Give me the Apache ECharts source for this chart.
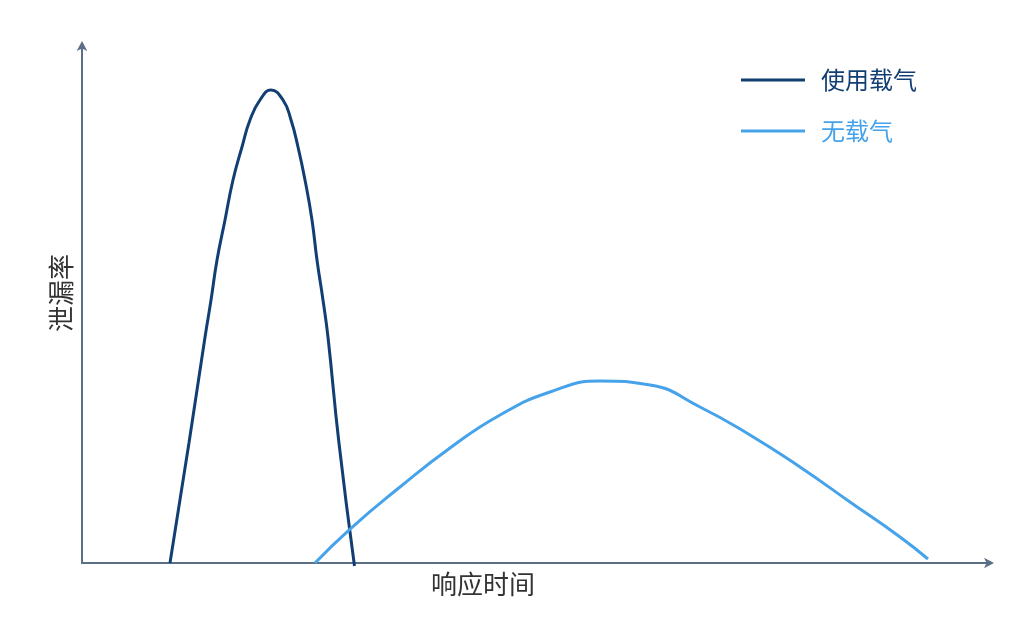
<!DOCTYPE html>
<html>
<head>
<meta charset="utf-8">
<script src="https://cdn.jsdelivr.net/npm/echarts@6/dist/echarts.min.js"></script>
<style>html,body{margin:0;padding:0;background:#fff}#c{width:1032px;height:627px}</style>
</head>
<body>
<div id="c"></div>
<script>
var seriesNames = ['使用载气', '无载气'];
var seriesColors = ['#123f73', '#46a3ea'];
var xAxisName = '响应时间';
var yAxisName = '泄漏率';

// [response time, leak rate] (arbitrary units, 0-100)
var withCarrier = [
  [9.69, 0], [11.78, 23.17], [13.55, 43.63], [14.21, 50.77], [14.87, 58.49],
  [15.75, 66.22], [16.63, 73.94], [17.62, 80.31], [18.5, 85.52], [19.6, 89.38],
  [20.81, 91.31], [22.14, 89.38], [23.02, 85.52], [23.79, 80.31], [24.56, 73.94],
  [25.33, 66.22], [25.88, 58.49], [26.54, 50.77], [27.09, 43.63], [28.3, 23.17],
  [30.01, -0.58]
];
var withoutCarrier = [
  [25.66, 0], [29.52, 6.56], [35.02, 14.67], [40.53, 22.2], [46.04, 28.57],
  [51.54, 33.01], [57.05, 35.14], [62.56, 34.36], [68.06, 30.12],
  [73.57, 24.71], [79.07, 18.53], [84.58, 11.78], [90.09, 5.02], [93.17, 0.77]
];

var chart = echarts.init(document.getElementById('c'));
var font = '"Noto Sans CJK SC", "Noto Sans", sans-serif';
var axisLine = {
  show: true,
  symbol: ['none', 'arrow'],
  symbolSize: [8, 10],
  symbolOffset: [0, 4],
  lineStyle: { color: '#5b6f87', width: 2 }
};
chart.setOption({
  animation: false,
  grid: { left: 82, right: 42, top: 45, bottom: 64 },
  legend: {
    orient: 'vertical',
    left: 741,
    top: 68,
    padding: 0,
    itemWidth: 64,
    itemHeight: 3,
    itemGap: 27,
    icon: 'rect',
    textStyle: { fontSize: 24, fontFamily: font, padding: [0, 0, 0, 11] },
    data: [
      { name: seriesNames[0], textStyle: { color: seriesColors[0] } },
      { name: seriesNames[1], textStyle: { color: seriesColors[1] } }
    ]
  },
  xAxis: {
    type: 'value', min: 0, max: 100,
    name: xAxisName, nameLocation: 'middle', nameGap: 8,
    nameTextStyle: { fontSize: 26, color: '#333', fontFamily: font, padding: [0, 106, 0, 0] },
    axisLine: axisLine, axisTick: { show: false }, axisLabel: { show: false }, splitLine: { show: false }
  },
  yAxis: {
    type: 'value', min: 0, max: 100,
    name: yAxisName, nameLocation: 'middle', nameGap: 8, nameRotate: 90,
    nameTextStyle: { fontSize: 26, color: '#333', fontFamily: font, padding: [0, 0, 0, 22] },
    axisLine: axisLine, axisTick: { show: false }, axisLabel: { show: false }, splitLine: { show: false }
  },
  series: [
    {
      name: seriesNames[0], type: 'line', data: withCarrier, smooth: 0.5, showSymbol: false, clip: false,
      lineStyle: { color: seriesColors[0], width: 3 }, itemStyle: { color: seriesColors[0] }
    },
    {
      name: seriesNames[1], type: 'line', data: withoutCarrier, smooth: 0.5, showSymbol: false, clip: false,
      lineStyle: { color: seriesColors[1], width: 3 }, itemStyle: { color: seriesColors[1] }
    }
  ]
});
</script>
</body>
</html>
